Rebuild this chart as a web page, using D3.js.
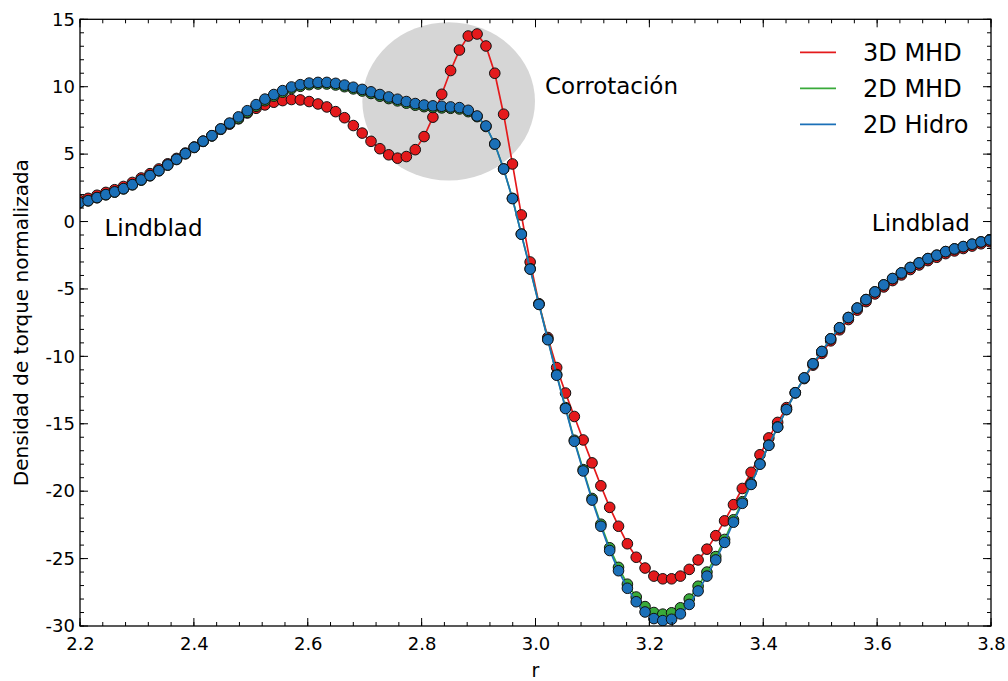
<!DOCTYPE html>
<html><head><meta charset="utf-8">
<script src="https://cdn.jsdelivr.net/npm/d3@7"></script>
<style>body{margin:0;background:#fff;} svg{display:block;} text{font-family:"DejaVu Sans",sans-serif;fill:#000;}</style>
</head><body><svg id="c" width="1008" height="681"></svg>
<script>
const rValues = [2.1988,2.2143,2.2299,2.2454,2.2609,2.2764,2.2920,2.3075,2.3230,2.3385,
2.3541,2.3696,2.3851,2.4006,2.4162,2.4317,2.4472,2.4627,2.4783,2.4938,
2.5093,2.5248,2.5404,2.5559,2.5714,2.5869,2.6025,2.6180,2.6335,2.6490,
2.6646,2.6801,2.6956,2.7111,2.7267,2.7422,2.7577,2.7732,2.7888,2.8043,
2.8198,2.8353,2.8509,2.8664,2.8819,2.8974,2.9130,2.9285,2.9440,2.9595,
2.9751,2.9906,3.0061,3.0216,3.0372,3.0527,3.0682,3.0837,3.0993,3.1148,
3.1303,3.1458,3.1614,3.1769,3.1924,3.2079,3.2235,3.2390,3.2545,3.2700,
3.2856,3.3011,3.3166,3.3321,3.3477,3.3632,3.3787,3.3942,3.4098,3.4253,
3.4408,3.4563,3.4719,3.4874,3.5029,3.5184,3.5340,3.5495,3.5650,3.5805,
3.5961,3.6116,3.6271,3.6426,3.6582,3.6737,3.6892,3.7047,3.7203,3.7358,
3.7513,3.7668,3.7824,3.7979];

const mhd3d = [1.58,1.72,1.95,2.16,2.36,2.60,2.90,3.23,3.55,3.90,
4.28,4.68,5.08,5.53,5.96,6.36,6.84,7.22,7.62,8.05,
8.40,8.65,8.85,8.97,9.05,9.02,8.90,8.72,8.50,8.15,
7.70,7.12,6.56,5.95,5.40,4.95,4.70,4.82,5.33,6.30,
7.74,9.44,11.20,12.72,13.76,13.91,13.02,11.00,7.96,4.27,
0.49,-3.00,-6.10,-8.60,-10.83,-12.72,-14.46,-16.20,-17.90,-19.60,
-21.20,-22.60,-23.90,-24.90,-25.70,-26.30,-26.50,-26.50,-26.30,-25.80,
-25.10,-24.30,-23.30,-22.20,-21.00,-19.80,-18.60,-17.30,-16.05,-14.90,
-13.80,-12.70,-11.65,-10.65,-9.78,-8.85,-8.03,-7.27,-6.57,-5.94,
-5.37,-4.85,-4.38,-3.96,-3.56,-3.22,-2.90,-2.65,-2.38,-2.18,
-2.00,-1.82,-1.65,-1.50];

const mhd2d = [1.38,1.53,1.76,1.98,2.18,2.42,2.72,3.07,3.39,3.76,
4.18,4.60,5.02,5.49,5.94,6.35,6.85,7.27,7.64,8.10,
8.55,8.96,9.30,9.59,9.86,10.03,10.15,10.20,10.20,10.13,
10.00,9.84,9.68,9.50,9.30,9.12,8.95,8.78,8.63,8.52,
8.46,8.43,8.40,8.35,8.15,7.78,7.05,5.75,3.90,1.72,
-0.92,-3.50,-6.12,-8.72,-11.35,-13.80,-16.22,-18.40,-20.54,-22.45,
-24.20,-25.65,-26.90,-27.85,-28.56,-29.00,-29.12,-29.02,-28.65,-28.00,
-27.05,-26.00,-24.85,-23.58,-22.12,-20.78,-19.43,-17.97,-16.58,-15.24,
-13.94,-12.70,-11.60,-10.55,-9.64,-8.70,-7.88,-7.12,-6.42,-5.79,
-5.22,-4.70,-4.23,-3.81,-3.41,-3.07,-2.75,-2.50,-2.23,-2.03,
-1.86,-1.68,-1.51,-1.36];

const hidro2d = [1.40,1.55,1.78,2.00,2.20,2.44,2.74,3.09,3.41,3.78,
4.20,4.62,5.04,5.51,5.96,6.37,6.87,7.30,7.76,8.22,
8.67,9.08,9.42,9.71,9.98,10.15,10.27,10.32,10.32,10.25,
10.12,9.96,9.80,9.62,9.42,9.24,9.07,8.90,8.75,8.64,
8.58,8.55,8.50,8.45,8.25,7.83,7.09,5.75,3.90,1.70,
-0.94,-3.53,-6.15,-8.77,-11.40,-13.87,-16.30,-18.50,-20.66,-22.60,
-24.40,-25.90,-27.20,-28.20,-28.96,-29.45,-29.60,-29.50,-29.10,-28.40,
-27.40,-26.30,-25.10,-23.80,-22.30,-20.90,-19.50,-18.00,-16.60,-15.25,
-13.95,-12.70,-11.60,-10.55,-9.64,-8.70,-7.88,-7.12,-6.42,-5.79,
-5.22,-4.70,-4.23,-3.81,-3.41,-3.07,-2.75,-2.50,-2.23,-2.03,
-1.86,-1.68,-1.51,-1.36];

const seriesNames = ["3D MHD","2D MHD","2D Hidro"];
const seriesColors = ["#e41a1c","#39aa3a","#1b70b8"];
const xTicks = [2.2,2.4,2.6,2.8,3.0,3.2,3.4,3.6,3.8];
const xTickLabels = ["2.2","2.4","2.6","2.8","3.0","3.2","3.4","3.6","3.8"];
const yTicks = [15,10,5,0,-5,-10,-15,-20,-25,-30];
const yTickLabels = ["15","10","5","0","-5","-10","-15","-20","-25","-30"];
const annotations = [
  {text:"Lindblad", r:2.243, v:-1.05, anchor:"start"},
  {text:"Lindblad", r:3.763, v:-0.69, anchor:"end"},
  {text:"Corrotación", r:3.0167, v:9.46, anchor:"start"}
];
const corot = {r:2.8475, v:8.91, dr:0.1516, dv:5.87};

const svg = d3.select("#c");
const L=80, T=19.3, R=991, B=626;
const x = d3.scaleLinear().domain([2.2,3.8]).range([L,R]);
const y = d3.scaleLinear().domain([-30,15]).range([B,T]);

svg.append("defs").append("clipPath").attr("id","clip")
  .append("rect").attr("x",L).attr("y",T).attr("width",R-L).attr("height",B-T);
const plot = svg.append("g").attr("clip-path","url(#clip)");

plot.append("ellipse")
  .attr("cx", x(corot.r)).attr("cy", y(corot.v))
  .attr("rx", x(corot.r+corot.dr)-x(corot.r))
  .attr("ry", y(corot.v-corot.dv)-y(corot.v))
  .attr("fill","#d6d6d6");

const allSeries = [mhd3d, mhd2d, hidro2d];
const line = d3.line().x((d,i)=>x(rValues[i])).y(d=>y(d));
allSeries.forEach((vals,k)=>{
  const g = plot.append("g");
  g.append("path").datum(vals).attr("d",line)
    .attr("fill","none").attr("stroke",seriesColors[k]).attr("stroke-width",1.7);
  g.selectAll("circle").data(vals).join("circle")
    .attr("cx",(d,i)=>x(rValues[i])).attr("cy",d=>y(d)).attr("r",5.3)
    .attr("fill",seriesColors[k]).attr("stroke","#111").attr("stroke-width",1);
});

const fmtX = (d,i)=>xTickLabels[i];
const fmtY = (d,i)=>yTickLabels[i];
const xMinor = d3.range(2.2,3.8001,0.04);
const yMinor = d3.range(-30,15.001,1);
function addTicks(g, vals, scale, orient, len){
  vals.forEach(v=>{
    const p = scale(v);
    let l;
    if(orient==="bottom") l=[p,B,p,B-len];
    if(orient==="top") l=[p,T,p,T+len];
    if(orient==="left") l=[L,p,L+len,p];
    if(orient==="right") l=[R,p,R-len,p];
    g.append("line").attr("x1",l[0]).attr("y1",l[1]).attr("x2",l[2]).attr("y2",l[3])
      .attr("stroke","#000").attr("stroke-width",1);
  });
}
const tg = svg.append("g");
addTicks(tg,xMinor,x,"bottom",4);addTicks(tg,xMinor,x,"top",4);
addTicks(tg,yMinor,y,"left",4);addTicks(tg,yMinor,y,"right",4);
addTicks(tg,xTicks,x,"bottom",8);addTicks(tg,xTicks,x,"top",8);
addTicks(tg,yTicks,y,"left",8);addTicks(tg,yTicks,y,"right",8);

svg.append("rect").attr("x",L).attr("y",T).attr("width",R-L).attr("height",B-T)
  .attr("fill","none").attr("stroke","#000").attr("stroke-width",1.3);

const xAxis = svg.append("g").attr("transform",`translate(0,${B})`)
  .call(d3.axisBottom(x).tickValues(xTicks).tickFormat(fmtX).tickSize(0).tickPadding(11));
const yAxis = svg.append("g").attr("transform",`translate(${L},0)`)
  .call(d3.axisLeft(y).tickValues(yTicks).tickFormat(fmtY).tickSize(0).tickPadding(5));
[xAxis,yAxis].forEach(a=>{a.select(".domain").remove();
  a.selectAll("text").style("font-family","DejaVu Sans").style("font-size","18px");});

svg.append("text").attr("x",(L+R)/2).attr("y",677).attr("text-anchor","middle")
  .style("font-size","19px").text("r");
svg.append("text").attr("transform",`translate(28,${(T+B)/2}) rotate(-90)`)
  .attr("text-anchor","middle").style("font-size","20px").text("Densidad de torque normalizada");

annotations.forEach(a=>{
  svg.append("text").attr("x",x(a.r)).attr("y",y(a.v)).attr("text-anchor",a.anchor)
    .style("font-size","23px").text(a.text);
});

const lg = svg.append("g");
seriesNames.forEach((n,k)=>{
  const yy = 52.3 + k*36;
  lg.append("line").attr("x1",800).attr("x2",836).attr("y1",yy).attr("y2",yy)
    .attr("stroke",seriesColors[k]).attr("stroke-width",1.7);
  lg.append("text").attr("x",863).attr("y",yy).attr("dy","0.36em")
    .style("font-size","24px").text(n);
});
</script></body></html>
